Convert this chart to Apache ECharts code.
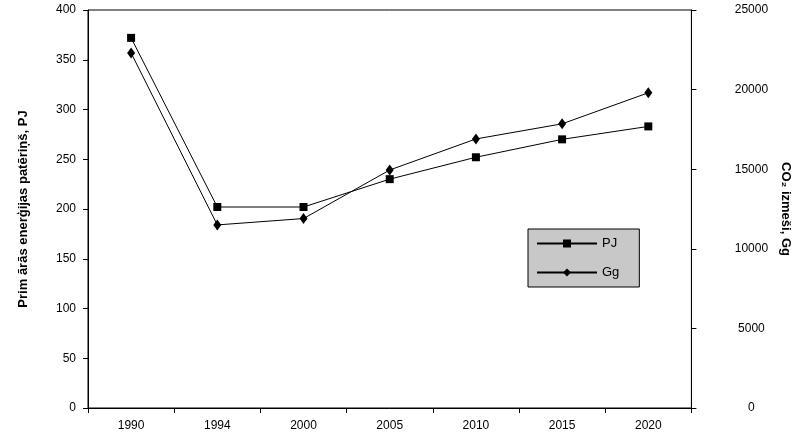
<!DOCTYPE html>
<html><head><meta charset="utf-8">
<script src="https://cdn.jsdelivr.net/npm/echarts@6/dist/echarts.min.js"></script>
<style>html,body{margin:0;background:#fff}#c{width:800px;height:442px}</style>
</head><body><div id="c"></div>
<script>
const categories = ['1990','1994','2000','2005','2010','2015','2020'];
const pjValues = [372, 202, 202, 230, 252, 270, 283];
const ggValues = [22300, 11500, 11900, 14950, 16900, 17850, 19800];
const font = 'Liberation Sans, Arial, sans-serif';
const chart = echarts.init(document.getElementById('c'));
chart.setOption({
  backgroundColor: '#fff',
  animation: false,
  textStyle: {fontFamily: font, color: '#000'},
  grid: {left: 88, right: 102, top: 10, bottom: 34, show: true, borderColor: '#000', borderWidth: 1},
  legend: {
    data: ['PJ', 'Gg'], orient: 'vertical', left: 528, top: 229,
    width: 110, padding: [8, 20, 8, 8], itemGap: 16, itemWidth: 60, itemHeight: 10,
    backgroundColor: '#c8c8c8', borderColor: '#000', borderWidth: 1,
    textStyle: {fontFamily: font, fontSize: 13, color: '#000'}
  },
  xAxis: {
    type: 'category', data: categories, boundaryGap: true,
    axisLine: {lineStyle: {color: '#000'}},
    axisTick: {show: true, inside: false, length: 5, lineStyle: {color: '#000'}},
    axisLabel: {color: '#000', fontSize: 12, margin: 12}
  },
  yAxis: [{
    type: 'value', min: 0, max: 400, interval: 50,
    name: 'Prim ārās enerģijas patēriņš, PJ', nameLocation: 'middle', nameGap: 58, nameRotate: 90,
    nameTextStyle: {fontWeight: 'bold', fontSize: 13, color: '#000'},
    axisLine: {show: true, lineStyle: {color: '#000'}},
    axisTick: {show: true, length: 5, lineStyle: {color: '#000'}},
    axisLabel: {color: '#000', fontSize: 12, margin: 12},
    splitLine: {show: false}
  }, {
    type: 'value', min: 0, max: 25000, interval: 5000,
    name: 'CO₂ izmeši, Gg', nameLocation: 'middle', nameGap: 80, nameRotate: -90,
    nameTextStyle: {fontWeight: 'bold', fontSize: 13, color: '#000'},
    axisLine: {show: true, lineStyle: {color: '#000'}},
    axisTick: {show: true, length: 5, lineStyle: {color: '#000'}},
    axisLabel: {color: '#000', fontSize: 12, margin: 60, align: 'center', formatter: v => String(v)},
    splitLine: {show: false}
  }],
  series: [{
    name: 'PJ', type: 'line', yAxisIndex: 0, data: pjValues,
    symbol: 'rect', symbolSize: 8, lineStyle: {color: '#000', width: 1},
    itemStyle: {color: '#000'}
  }, {
    name: 'Gg', type: 'line', yAxisIndex: 1, data: ggValues,
    symbol: 'diamond', symbolSize: [8, 11], lineStyle: {color: '#000', width: 1},
    itemStyle: {color: '#000'}
  }]
});
</script></body></html>
